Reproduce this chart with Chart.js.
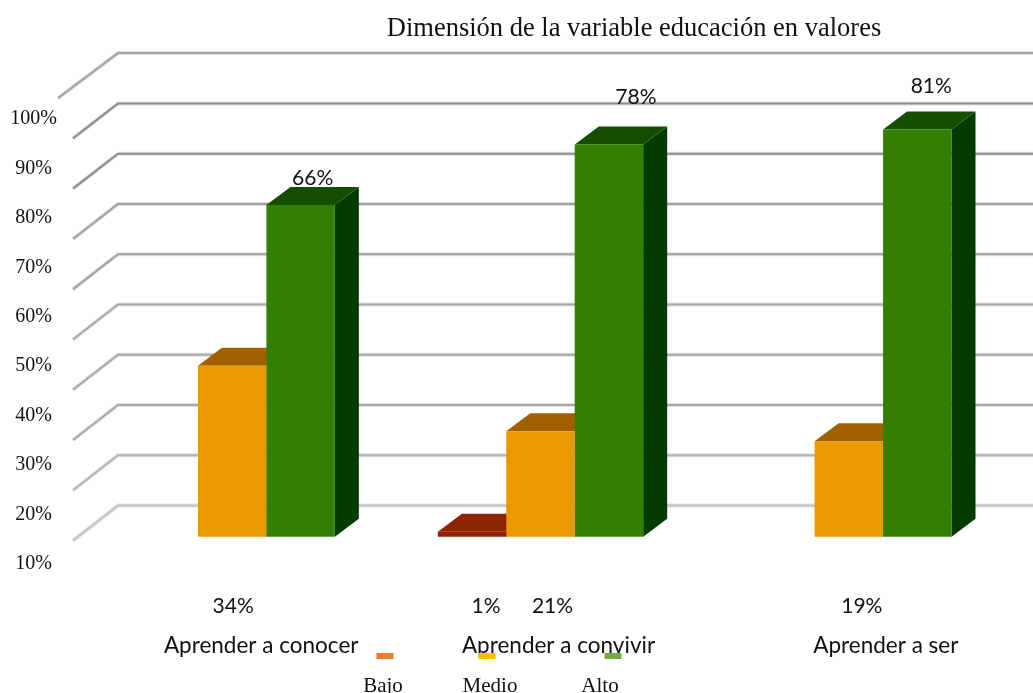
<!DOCTYPE html>
<html>
<head>
<meta charset="utf-8">
<title>Dimensión de la variable educación en valores</title>
<script src="https://cdn.jsdelivr.net/npm/chart.js@4"></script>
<style>
    html, body { margin: 0; padding: 0; background: #fff; }
    canvas { display: block; }
</style>
</head>
<body>
<canvas id="chart" width="1033" height="693"></canvas>
<script>
var chartTitle = 'Dimensión de la variable educación en valores';
var categories = ['Aprender a conocer', 'Aprender a convivir', 'Aprender a ser'];
var seriesNames = ['Bajo', 'Medio', 'Alto'];
var bajo = [0, 1, 0];
var medio = [34, 21, 19];
var alto = [66, 78, 81];
var tickValues = [10, 20, 30, 40, 50, 60, 70, 80, 90, 100];
var gridValues = [6.2, 16.2, 26.2, 36.2, 46.2, 56.2, 66.2, 76.2, 86.2, 96.2];

// colours: front, top, side of the bars
var barColors = ['#8f2400', '#e89a00', '#338000'];
var topColors = ['#8f2400', '#a06000', '#144f00'];
var sideColors = ['#6a1a00', '#8a5000', '#033a00'];
var keyColors = ['#ed7d31', '#ffc000', '#70ad47'];
var gridColors = ['#c2c2c2', '#b4b4b4', '#a8a8a8', '#a8a8a8', '#a8a8a8', '#a0a0a0', '#a0a0a0', '#8c8c8c', '#8c8c8c', '#a4a4a4'];

var serif = '"Liberation Serif"';
var sans = 'Lato';
var depthX = 24, depthY = 18;

// small shifts of the loose labels, they do not sit centred in the picture
var categoryShift = [29, 18, 37];
var keyX = [385, 487, 613];
var keyTextX = [383, 490, 600];

function text(ctx, str, x, y, font) {
    ctx.font = font;
    ctx.fillStyle = '#111';
    ctx.textAlign = 'center';
    ctx.textBaseline = 'middle';
    ctx.fillText(str, x, y);
}

function poly(ctx, pts, color) {
    ctx.beginPath();
    ctx.moveTo(pts[0][0], pts[0][1]);
    for (var i = 1; i < pts.length; i++) {
        ctx.lineTo(pts[i][0], pts[i][1]);
    }
    ctx.closePath();
    ctx.fillStyle = color;
    ctx.fill();
}

var wallPlugin = {
    id: 'wall',
    beforeDatasetsDraw: function (chart) {
        var ctx = chart.ctx,
            left = chart.chartArea.left,
            yScale = chart.scales.y;

        ctx.save();
        ctx.lineCap = 'butt';
        for (var i = 0; i < gridValues.length; i++) {
            var y = yScale.getPixelForValue(gridValues[i]);
            var last = i == gridValues.length - 1;
            ctx.beginPath();
            ctx.moveTo(last ? left - 20 : left - 5, y + (last ? 45 : 35));
            ctx.lineTo(left + 40, y);
            ctx.lineTo(chart.width, y);
            ctx.lineWidth = 4;
            ctx.strokeStyle = '#e2e2e2';
            ctx.stroke();
            ctx.lineWidth = 2;
            ctx.strokeStyle = gridColors[i];
            ctx.stroke();
        }

        // top and side faces go under the fronts the library draws
        chart.data.datasets.forEach(function (ds, d) {
            chart.getDatasetMeta(d).data.forEach(function (bar, j) {
                if (!ds.data[j]) {
                    return;
                }
                var l = bar.x - bar.width / 2,
                    r = bar.x + bar.width / 2;
                poly(ctx, [[r, bar.y], [r + depthX, bar.y - depthY], [r + depthX, bar.base - depthY], [r, bar.base]], sideColors[d]);
                poly(ctx, [[l, bar.y], [l + depthX, bar.y - depthY], [r + depthX, bar.y - depthY], [r, bar.y]], topColors[d]);
            });
        });
        ctx.restore();
    },
    afterDatasetsDraw: function (chart) {
        var ctx = chart.ctx,
            area = chart.chartArea,
            xScale = chart.scales.x,
            medioBars = chart.getDatasetMeta(1).data,
            altoBars = chart.getDatasetMeta(2).data,
            bajoBars = chart.getDatasetMeta(0).data,
            valueFont = '21px ' + sans,
            categoryFont = '22.5px ' + sans,
            i;

        ctx.save();
        text(ctx, chartTitle, 634, 29, '26.5px ' + serif);

        // labels over the green bars
        var altoDx = [12, 27, 14], altoDy = [-27, -47, -43];
        for (i = 0; i < alto.length; i++) {
            text(ctx, alto[i] + '%', altoBars[i].x + altoDx[i], altoBars[i].y + altoDy[i], valueFont);
        }

        // the other values sit in a row under the plot
        var medioDx = [1, 12, 13];
        for (i = 0; i < medio.length; i++) {
            text(ctx, medio[i] + '%', medioBars[i].x + medioDx[i], area.bottom + 19, valueFont);
        }
        text(ctx, bajo[1] + '%', bajoBars[1].x + 14, area.bottom + 19, valueFont);

        for (i = 0; i < categories.length; i++) {
            text(ctx, categories[i], xScale.getPixelForValue(i) + categoryShift[i], area.bottom + 59, categoryFont);
        }

        // key: swatch above its name
        for (i = 0; i < seriesNames.length; i++) {
            ctx.fillStyle = keyColors[i];
            ctx.fillRect(keyX[i] - 8.5, 653, 17, 6);
            text(ctx, seriesNames[i], keyTextX[i], 686, '21px ' + serif);
        }
        ctx.restore();
    }
};

new Chart(document.getElementById('chart'), {
    type: 'bar',
    data: {
        labels: categories,
        datasets: [
            { label: seriesNames[0], data: bajo, backgroundColor: barColors[0], yAxisID: 'y' },
            { label: seriesNames[1], data: medio, backgroundColor: barColors[1], yAxisID: 'y' },
            { label: seriesNames[2], data: alto, backgroundColor: barColors[2], yAxisID: 'y' }
        ]
    },
    plugins: [wallPlugin],
    options: {
        responsive: false,
        animation: false,
        layout: { padding: { top: 34, right: 30, bottom: 106, left: 0 } },
        plugins: {
            legend: { display: false },
            title: { display: false },
            tooltip: { enabled: false }
        },
        datasets: { bar: { categoryPercentage: 0.666, barPercentage: 1 } },
        scales: {
            x: { display: false },
            y: { display: false, min: -10, max: 100 },
            yLabels: {
                position: 'left',
                min: 5.34,
                max: 117.2,
                grid: { display: false, drawTicks: false },
                border: { display: false },
                afterBuildTicks: function (scale) {
                    scale.ticks = tickValues.map(function (v) { return { value: v }; });
                },
                afterFit: function (scale) {
                    scale.width = 78;
                },
                ticks: {
                    padding: 21,
                    crossAlign: 'center',
                    color: '#111',
                    font: { family: serif, size: 20 },
                    callback: function (v) { return v + '%'; }
                }
            }
        }
    }
});
</script>
</body>
</html>
